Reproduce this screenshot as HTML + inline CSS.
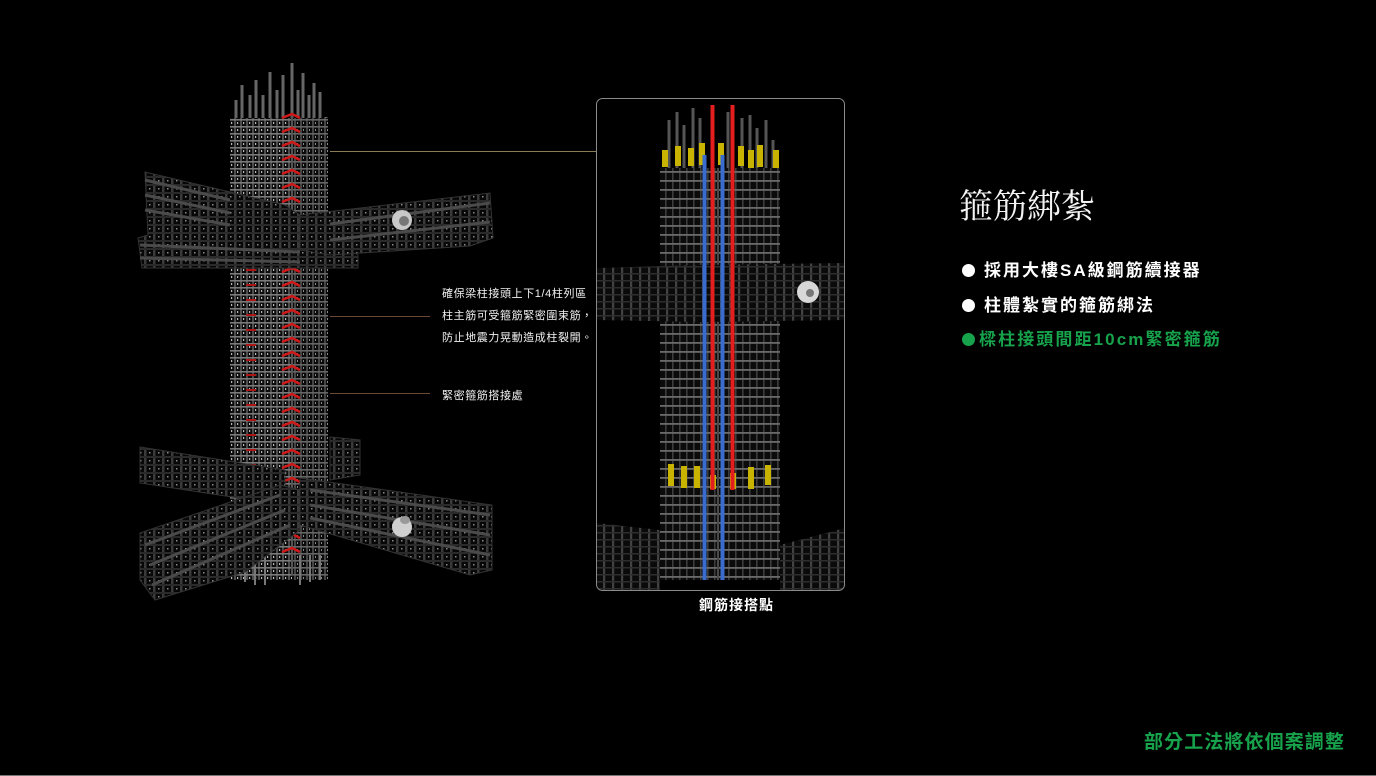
<!DOCTYPE html>
<html><head><meta charset="utf-8">
<style>
html,body{margin:0;padding:0;background:#000;}
#wrap{position:relative;width:1376px;height:776px;overflow:hidden;background:#000;font-family:"Liberation Sans","Noto Sans CJK TC","Noto Sans CJK SC",sans-serif;color:#fff;}
.t{position:absolute;white-space:nowrap;}
.sm{font-size:11px;letter-spacing:0.6px;color:#f2f2f2;line-height:14px;}
.bl{font-size:17px;font-weight:bold;letter-spacing:2px;line-height:20px;}
.dot{display:inline-block;width:13px;height:13px;border-radius:50%;background:#fff;vertical-align:-1px;margin-right:9px;}
</style></head><body><div id="wrap">
<svg width="1376" height="776" style="position:absolute;left:0;top:0">
<defs>
<pattern id="colL" width="6" height="7" patternUnits="userSpaceOnUse">
<rect width="6" height="7" fill="#0c0c0c"/>
<rect x="0" width="2" height="7" fill="#4d4d4d"/>
<rect y="0" width="6" height="1.6" fill="#7a7a7a"/>
<rect x="3" y="3" width="1.2" height="2" fill="#b8b8b8"/>
</pattern>
<pattern id="colR" width="6" height="7" patternUnits="userSpaceOnUse">
<rect width="6" height="7" fill="#0a0a0a"/>
<rect x="0" width="2" height="7" fill="#444"/>
<rect y="0" width="6" height="1.6" fill="#666"/>
<rect x="3" y="3" width="1" height="2" fill="#888"/>
</pattern>
<pattern id="beam" width="9" height="8" patternUnits="userSpaceOnUse">
<rect width="9" height="8" fill="#070707"/>
<rect x="0" width="2.5" height="8" fill="#3a3a3a"/>
<rect y="0" width="9" height="2" fill="#2a2a2a"/>
<rect x="5" y="4" width="1.5" height="1.5" fill="#8a8a8a"/>
</pattern>
<pattern id="pcol" width="7" height="9" patternUnits="userSpaceOnUse">
<rect width="7" height="9" fill="#0b0b0b"/>
<rect x="0" width="1.6" height="9" fill="#3c3c3c"/>
<rect y="0" width="7" height="1.8" fill="#6a6a6a"/>
</pattern>
<pattern id="pbeam" width="9" height="7" patternUnits="userSpaceOnUse">
<rect width="9" height="7" fill="#0a0a0a"/>
<rect x="0" width="2.2" height="7" fill="#424242"/>
<rect y="0" width="9" height="1.5" fill="#2d2d2d"/>
</pattern>
<clipPath id="frame"><rect x="597" y="98" width="248" height="492" rx="6"/></clipPath>
</defs>

<!-- LEFT STRUCTURE -->
<g stroke="#666" stroke-width="3">
<line x1="236" y1="100" x2="236" y2="125"/><line x1="242" y1="85" x2="242" y2="125"/>
<line x1="250" y1="95" x2="250" y2="125"/><line x1="256" y1="80" x2="256" y2="125"/>
<line x1="263" y1="95" x2="263" y2="125"/><line x1="270" y1="72" x2="270" y2="125"/>
<line x1="277" y1="90" x2="277" y2="125"/><line x1="283" y1="75" x2="283" y2="125"/>
<line x1="292" y1="63" x2="292" y2="125"/><line x1="298" y1="90" x2="298" y2="125"/>
<line x1="303" y1="73" x2="303" y2="125"/><line x1="309" y1="95" x2="309" y2="125"/>
<line x1="314" y1="83" x2="314" y2="125"/><line x1="320" y1="92" x2="320" y2="125"/>
<line x1="326" y1="117" x2="326" y2="130"/>
</g>
<rect x="230" y="118" width="62" height="462" fill="url(#colL)"/>
<rect x="292" y="118" width="36" height="462" fill="url(#colR)"/>
<line x1="292" y1="113" x2="292" y2="575" stroke="#555" stroke-width="2"/>
<g stroke="#777" stroke-width="2">
<line x1="245" y1="555" x2="245" y2="582"/><line x1="255" y1="555" x2="255" y2="585"/>
<line x1="265" y1="555" x2="265" y2="585"/><line x1="300" y1="555" x2="300" y2="585"/>
<line x1="310" y1="555" x2="310" y2="582"/><line x1="320" y1="555" x2="320" y2="580"/>
</g>
<g stroke="#d01818" stroke-width="2.5" fill="none">
<polyline points="282,118 292,114 300,118"/><polyline points="282,132 292,128 300,132"/>
<polyline points="282,146 292,142 300,146"/><polyline points="282,160 292,156 300,160"/>
<polyline points="282,174 292,170 300,174"/><polyline points="282,188 292,184 300,188"/>
<polyline points="282,202 292,198 300,202"/><polyline points="282,216 292,212 300,216"/>
<polyline points="282,230 292,226 300,230"/><polyline points="282,244 292,240 300,244"/>
<polyline points="282,258 292,254 300,258"/><polyline points="282,272 292,268 300,272"/>
<polyline points="282,286 292,282 300,286"/><polyline points="282,300 292,296 300,300"/>
<polyline points="282,314 292,310 300,314"/><polyline points="282,328 292,324 300,328"/>
<polyline points="282,342 292,338 300,342"/><polyline points="282,356 292,352 300,356"/>
<polyline points="282,370 292,366 300,370"/><polyline points="282,384 292,380 300,384"/>
<polyline points="282,398 292,394 300,398"/><polyline points="282,412 292,408 300,412"/>
<polyline points="282,426 292,422 300,426"/><polyline points="282,440 292,436 300,440"/>
<polyline points="282,454 292,450 300,454"/><polyline points="282,468 292,464 300,468"/>
<polyline points="282,482 292,478 300,482"/><polyline points="282,496 292,492 300,496"/>
<polyline points="282,510 292,506 300,510"/><polyline points="282,524 292,520 300,524"/>
<polyline points="282,538 292,534 300,538"/><polyline points="282,552 292,548 300,552"/>
</g>
<g stroke="#b01515" stroke-width="2">
<line x1="246" y1="270" x2="256" y2="270"/><line x1="246" y1="285" x2="256" y2="285"/>
<line x1="246" y1="300" x2="256" y2="300"/><line x1="246" y1="315" x2="256" y2="315"/>
<line x1="246" y1="330" x2="256" y2="330"/><line x1="246" y1="345" x2="256" y2="345"/>
<line x1="246" y1="360" x2="256" y2="360"/><line x1="246" y1="375" x2="256" y2="375"/>
<line x1="246" y1="390" x2="256" y2="390"/><line x1="246" y1="405" x2="256" y2="405"/>
<line x1="246" y1="420" x2="256" y2="420"/><line x1="246" y1="435" x2="256" y2="435"/>
<line x1="246" y1="450" x2="256" y2="450"/><line x1="246" y1="465" x2="256" y2="465"/>
</g>
<!-- upper beams -->
<polygon points="145,172 285,205 358,255 358,268 142,268 138,238 148,235" fill="url(#beam)" stroke="#333" stroke-width="1"/>
<polygon points="300,215 490,193 493,238 470,246 330,255 300,250" fill="url(#beam)" stroke="#333" stroke-width="1"/>
<g stroke="#4a4a4a" stroke-width="3">
<line x1="145" y1="180" x2="230" y2="200"/><line x1="145" y1="195" x2="230" y2="213"/>
<line x1="145" y1="210" x2="230" y2="225"/><line x1="140" y1="245" x2="300" y2="252"/>
<line x1="140" y1="258" x2="300" y2="262"/>
<line x1="330" y1="224" x2="490" y2="203"/><line x1="330" y1="240" x2="490" y2="222"/>
</g>
<circle cx="402" cy="220" r="10" fill="#c8c8c8"/><circle cx="404" cy="221" r="5" fill="#777"/>
<!-- lower beams -->
<polygon points="140,447 235,462 285,470 285,505 140,483" fill="url(#beam)" stroke="#333"/>
<polygon points="330,437 360,440 360,475 330,480" fill="url(#beam)" stroke="#333"/>
<polygon points="300,478 492,505 492,570 470,575 300,525" fill="url(#beam)" stroke="#333"/>
<polygon points="140,533 280,485 300,490 300,530 245,572 155,600 140,580" fill="url(#beam)" stroke="#333"/>
<g stroke="#4a4a4a" stroke-width="3">
<line x1="310" y1="490" x2="490" y2="515"/><line x1="310" y1="505" x2="490" y2="535"/>
<line x1="310" y1="518" x2="490" y2="555"/>
<line x1="145" y1="545" x2="280" y2="495"/><line x1="150" y1="565" x2="285" y2="510"/>
<line x1="152" y1="585" x2="290" y2="525"/>
</g>
<circle cx="402" cy="527" r="10" fill="#d0d0d0"/><ellipse cx="405" cy="520" rx="5" ry="4" fill="#999"/>

<!-- connector lines -->
<line x1="330" y1="151.5" x2="596" y2="151.5" stroke="#8a7c55" stroke-width="1"/>
<line x1="330" y1="316.5" x2="430" y2="316.5" stroke="#6a4a35" stroke-width="1"/>
<line x1="330" y1="393.5" x2="430" y2="393.5" stroke="#6a4a35" stroke-width="1"/>

<!-- RIGHT PHOTO -->
<g clip-path="url(#frame)">
<g stroke="#555" stroke-width="3">
<line x1="669" y1="120" x2="669" y2="170"/><line x1="677" y1="112" x2="677" y2="170"/>
<line x1="684" y1="125" x2="684" y2="170"/><line x1="693" y1="108" x2="693" y2="170"/>
<line x1="700" y1="118" x2="700" y2="170"/><line x1="728" y1="112" x2="728" y2="170"/>
<line x1="742" y1="118" x2="742" y2="170"/><line x1="750" y1="115" x2="750" y2="170"/>
<line x1="757" y1="128" x2="757" y2="170"/><line x1="766" y1="120" x2="766" y2="170"/>
<line x1="773" y1="140" x2="773" y2="170"/>
</g>
<rect x="660" y="168" width="120" height="412" fill="url(#pcol)"/>
<line x1="718" y1="168" x2="718" y2="580" stroke="#4a4a4a" stroke-width="2"/>
<g fill="#c8b400">
<rect x="662" y="150" width="6" height="17"/><rect x="675" y="146" width="6" height="20"/>
<rect x="688" y="148" width="6" height="18"/><rect x="699" y="143" width="6" height="22"/>
<rect x="718" y="143" width="6" height="22"/><rect x="738" y="146" width="6" height="20"/>
<rect x="748" y="150" width="6" height="18"/><rect x="757" y="145" width="6" height="22"/>
<rect x="773" y="150" width="6" height="18"/>
</g>
<polygon points="597,268 700,265 845,263 845,320 700,322 597,320" fill="url(#pbeam)"/>
<circle cx="808" cy="292" r="11" fill="#d8d8d8"/><circle cx="810" cy="293" r="4" fill="#777"/>
<polygon points="597,523 660,530 660,590 597,590" fill="url(#pbeam)"/>
<polygon points="780,545 845,528 845,590 780,590" fill="url(#pbeam)"/>
<g fill="#c8b400">
<rect x="668" y="464" width="6" height="22"/><rect x="681" y="466" width="6" height="22"/>
<rect x="694" y="466" width="6" height="22"/><rect x="710" y="475" width="6" height="14"/>
<rect x="730" y="473" width="6" height="16"/><rect x="748" y="467" width="6" height="22"/>
<rect x="765" y="465" width="6" height="20"/>
</g>
<rect x="702.5" y="155" width="4" height="425" fill="#3a6cd0"/>
<rect x="720.5" y="155" width="4" height="425" fill="#3a6cd0"/>
<rect x="710.5" y="105" width="4" height="385" fill="#e41e1e"/>
<rect x="730.5" y="105" width="4" height="385" fill="#e41e1e"/>
</g>
<rect x="596.5" y="98.5" width="248" height="492" rx="6" fill="none" stroke="#8a8a8a" stroke-width="1"/>

<line x1="0" y1="775.5" x2="1376" y2="775.5" stroke="#777" stroke-width="1"/>
</svg>

<div class="t sm" style="left:442px;top:287px;">確保梁柱接頭上下1/4柱列區</div>
<div class="t sm" style="left:442px;top:309px;">柱主筋可受箍筋緊密圍束筋，</div>
<div class="t sm" style="left:442px;top:331px;">防止地震力晃動造成柱裂開。</div>
<div class="t sm" style="left:442px;top:389px;">緊密箍筋搭接處</div>

<div class="t" style="left:699px;top:595px;font-size:14px;font-weight:bold;letter-spacing:1px;">鋼筋接搭點</div>

<div class="t" style="left:959px;top:188px;font-family:'Liberation Serif','Noto Serif CJK SC',serif;font-size:34px;line-height:40px;color:#f4f4f4;">箍筋綁紮</div>
<div class="t bl" style="left:962px;top:261px;"><span class="dot"></span>採用大樓SA級鋼筋續接器</div>
<div class="t bl" style="left:962px;top:296px;"><span class="dot"></span>柱體紮實的箍筋綁法</div>
<div class="t bl" style="left:962px;top:330px;color:#17a24c;letter-spacing:2.1px;"><span class="dot" style="background:#17a24c;margin-right:4px;"></span>樑柱接頭間距10cm緊密箍筋</div>

<div class="t" style="left:1144px;top:731px;font-size:19px;font-weight:bold;letter-spacing:1.1px;color:#17a24c;line-height:24px;">部分工法將依個案調整</div>
</div></body></html>
